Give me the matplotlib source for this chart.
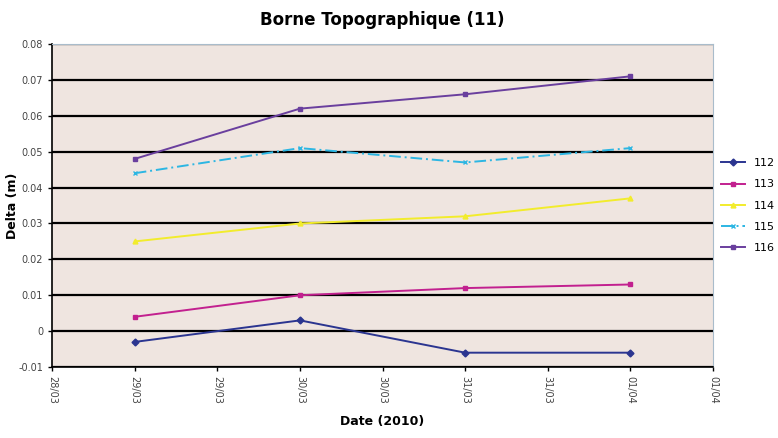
import matplotlib
matplotlib.use("Agg")
import matplotlib.pyplot as plt
import matplotlib.dates as mdates
from matplotlib.ticker import FuncFormatter, MultipleLocator
import datetime as dt

# mesures par borne (m)
dates = [dt.datetime(2010, 3, 29), dt.datetime(2010, 3, 30),
         dt.datetime(2010, 3, 31), dt.datetime(2010, 4, 1)]
noms = ["112", "113", "114", "115", "116"]
b112 = [-0.003, 0.003, -0.006, -0.006]
b113 = [0.004, 0.010, 0.012, 0.013]
b114 = [0.025, 0.030, 0.032, 0.037]
b115 = [0.044, 0.051, 0.047, 0.051]
b116 = [0.048, 0.062, 0.066, 0.071]

series = [b112, b113, b114, b115, b116]
couleurs = ["#2b3590", "#c2208f", "#f2ec2c", "#2cb6e3", "#6a3f9e"]
marqueurs = ["D", "s", "^", "x", "s"]
styles = ["-", "-", "-", (0, (6, 2, 1, 2)), "-"]

fig = plt.figure(figsize=(7.78, 4.38), dpi=100)
ax = fig.add_axes([0.067, 0.162, 0.8495, 0.7375])
ax.set_facecolor("#efe5e0")

for vals, nom, c, m, ls in zip(series, noms, couleurs, marqueurs, styles):
    ax.plot(dates, vals, color=c, marker=m, markersize=3.5, linewidth=1.4,
            linestyle=ls, label=nom, zorder=3)

ax.set_ylim(-0.01, 0.08)
ax.yaxis.set_major_locator(MultipleLocator(0.01))
ax.yaxis.set_major_formatter(FuncFormatter(lambda v, p: "%g" % round(v, 3)))
ax.grid(axis="y", color="black", linewidth=1.6, zorder=1)
ax.set_axisbelow(True)

debut = dt.datetime(2010, 3, 28, 12)
ticks = [debut + dt.timedelta(hours=12 * i) for i in range(9)]
ax.set_xlim(ticks[0], ticks[-1])
ax.set_xticks(ticks)
ax.xaxis.set_major_formatter(mdates.DateFormatter("%d/%m"))
plt.setp(ax.get_xticklabels(), rotation=270, fontsize=7, color="#444444")
plt.setp(ax.get_yticklabels(), fontsize=7, color="#444444")
ax.tick_params(axis="both", length=3, width=1, color="black")

for cote in ["top", "right"]:
    ax.spines[cote].set_color("#a9bccb")
for cote in ["left", "bottom"]:
    ax.spines[cote].set_color("black")
    ax.spines[cote].set_linewidth(1.2)

ax.set_title("Borne Topographique (11)", fontsize=12, fontweight="bold", pad=14)
ax.set_ylabel("Delta (m)", fontsize=9, fontweight="bold")
ax.yaxis.set_label_coords(-0.05, 0.5)
ax.set_xlabel("Date (2010)", fontsize=9, fontweight="bold", labelpad=8)

ax.legend(loc="center left", bbox_to_anchor=(1.0, 0.5), frameon=False,
          fontsize=8, handlelength=2.2, labelspacing=1.0, borderaxespad=0.3)

fig.savefig("out.png", dpi=100)
